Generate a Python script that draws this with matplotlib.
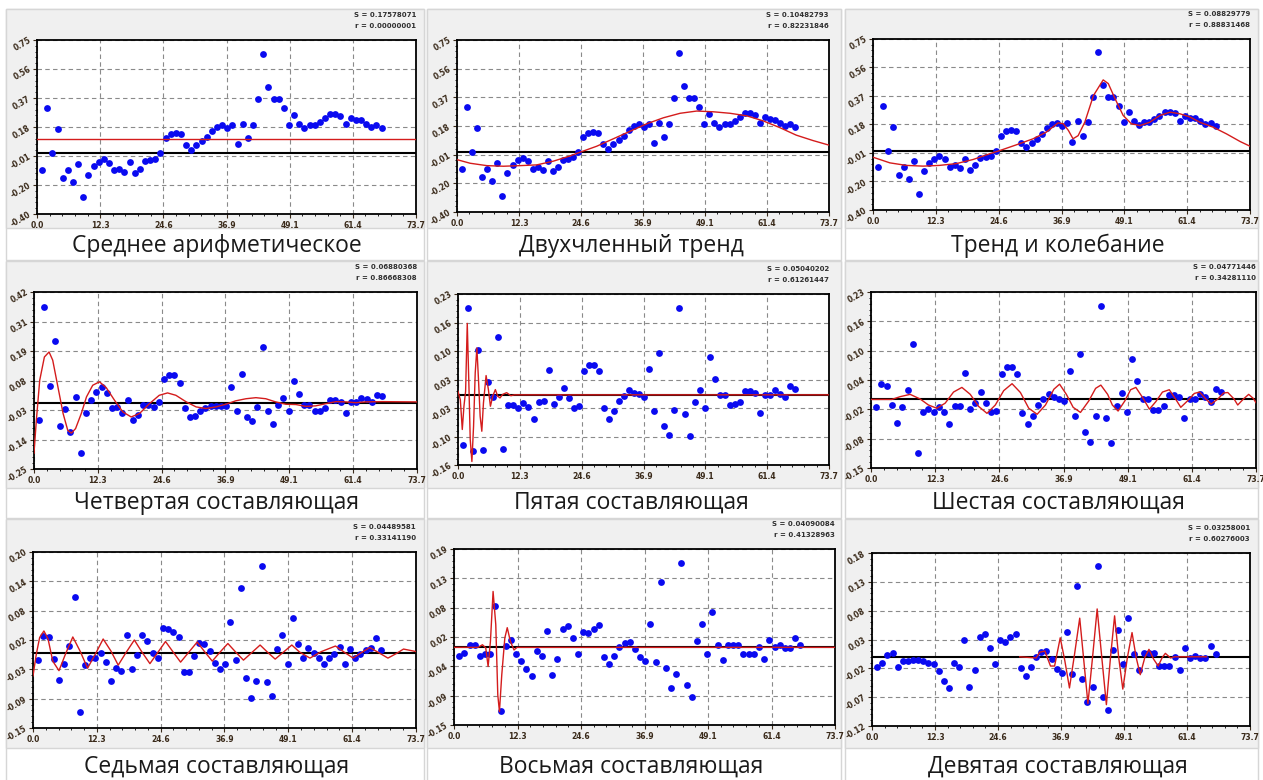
import numpy as np
import matplotlib
matplotlib.use('Agg')
import matplotlib.pyplot as plt
from matplotlib.patches import Rectangle
from matplotlib.ticker import AutoMinorLocator

W, H = 1263, 780

# ---- data ----
x_max = 73.7
x_tick_labels = ['0.0', '12.3', '24.6', '36.9', '49.1', '61.4', '73.7']
sample_x = np.arange(1, 68)   # 67 samples, axis runs to 1.1 * N

captions = ['Среднее арифметическое', 'Двухчленный тренд', 'Тренд и колебание',
            'Четвертая составляющая', 'Пятая составляющая', 'Шестая составляющая',
            'Седьмая составляющая', 'Восьмая составляющая', 'Девятая составляющая']
stats_s = ['S = 0.17578071', 'S = 0.10482793', 'S = 0.08829779',
           'S = 0.06880368', 'S = 0.05040202', 'S = 0.04771446',
           'S = 0.04489581', 'S = 0.04090084', 'S = 0.03258001']
stats_r = ['r = 0.00000001', 'r = 0.82231846', 'r = 0.88831468',
           'r = 0.86668308', 'r = 0.61261447', 'r = 0.34281110',
           'r = 0.33141190', 'r = 0.41328963', 'r = 0.60276003']

y_limits = [(-0.40, 0.75), (-0.40, 0.75), (-0.40, 0.75),
            (-0.25, 0.42), (-0.16, 0.23), (-0.15, 0.23),
            (-0.15, 0.20), (-0.15, 0.19), (-0.12, 0.18)]
y_tick_labels = [
    ['-0.40', '-0.20', '-0.01', '0.18', '0.37', '0.56', '0.75'],
    ['-0.40', '-0.20', '-0.01', '0.18', '0.37', '0.56', '0.75'],
    ['-0.40', '-0.20', '-0.01', '0.18', '0.37', '0.56', '0.75'],
    ['-0.25', '-0.14', '-0.03', '0.08', '0.19', '0.31', '0.42'],
    ['-0.16', '-0.10', '-0.03', '0.03', '0.10', '0.16', '0.23'],
    ['-0.15', '-0.08', '-0.02', '0.04', '0.10', '0.16', '0.23'],
    ['-0.15', '-0.09', '-0.03', '0.02', '0.08', '0.14', '0.20'],
    ['-0.15', '-0.09', '-0.04', '0.02', '0.08', '0.13', '0.19'],
    ['-0.12', '-0.07', '-0.02', '0.03', '0.08', '0.13', '0.18'],
]

raw = [-0.11, 0.30, 0.0, 0.16, -0.165, -0.11, -0.19, -0.07, -0.29, -0.14,
       -0.086, -0.055, -0.037, -0.06, -0.11, -0.10, -0.12, -0.057, -0.128, -0.10,
       -0.05, -0.044, -0.035, 0.0, 0.10, 0.13, 0.136, 0.13, 0.053, 0.024,
       0.053, 0.08, 0.11, 0.15, 0.178, 0.187, 0.167, 0.187, 0.06, 0.198,
       0.10, 0.19, 0.36, 0.66, 0.44, 0.36, 0.36, 0.30, 0.19, 0.257,
       0.198, 0.17, 0.19, 0.19, 0.21, 0.233, 0.26, 0.26, 0.25, 0.198,
       0.233, 0.22, 0.218, 0.198, 0.176, 0.187, 0.167]

resid4 = [-0.063, 0.364, 0.064, 0.233, -0.088, -0.024, -0.11, 0.024, -0.19, -0.039,
          0.013, 0.042, 0.059, 0.037, -0.019, -0.014, -0.039, 0.013, -0.064, -0.047,
          -0.009, -0.009, -0.015, 0.004, 0.09, 0.105, 0.104, 0.075, -0.019, -0.054,
          -0.048, -0.03, -0.019, -0.011, -0.011, -0.011, -0.011, 0.061, -0.029, 0.11,
          -0.053, -0.07, -0.015, 0.212, -0.029, -0.081, -0.008, 0.018, -0.029, 0.082,
          0.033, -0.006, -0.006, -0.032, -0.03, -0.02, 0.01, 0.01, 0.005, -0.039,
          0.005, 0.005, 0.019, 0.016, 0.005, 0.03, 0.025]

resid5 = [-0.115, 0.197, -0.128, 0.103, -0.126, 0.029, -0.005, 0.131, -0.123, -0.024,
          -0.024, -0.029, -0.018, -0.027, -0.056, -0.017, -0.015, 0.056, -0.02, -0.006,
          0.015, -0.007, -0.03, -0.026, 0.054, 0.068, 0.068, 0.054, -0.031, -0.055,
          -0.037, -0.013, -0.002, 0.01, 0.005, 0.002, -0.004, 0.059, -0.037, 0.096,
          -0.071, -0.091, -0.035, 0.198, -0.044, -0.094, -0.017, 0.011, -0.03, 0.086,
          0.037, 0.0, 0.0, -0.024, -0.022, -0.017, 0.009, 0.009, 0.005, -0.041,
          0.0, 0.0, 0.01, 0.002, -0.004, 0.02, 0.014]

resid6 = [-0.018, 0.031, 0.027, -0.014, -0.052, -0.018, 0.019, 0.118, -0.117, -0.03,
          -0.023, -0.03, -0.019, -0.03, -0.055, -0.017, -0.016, 0.055, -0.022, -0.009,
          0.015, -0.009, -0.03, -0.027, 0.054, 0.069, 0.069, 0.052, -0.032, -0.055,
          -0.037, -0.014, 0.0, 0.009, 0.004, -0.002, -0.006, 0.059, -0.038, 0.096,
          -0.072, -0.094, -0.037, 0.2, -0.043, -0.096, -0.016, 0.011, -0.03, 0.085,
          0.037, -0.001, -0.001, -0.025, -0.024, -0.017, 0.007, 0.007, 0.004, -0.042,
          -0.001, -0.001, 0.01, 0.004, -0.007, 0.02, 0.015]

resid7 = [-0.015, 0.032, 0.031, -0.013, -0.054, -0.022, 0.013, 0.111, -0.118, -0.024,
          -0.01, -0.011, 0.0, -0.019, -0.056, -0.03, -0.036, 0.035, -0.032, -0.004,
          0.035, 0.023, -0.001, -0.011, 0.048, 0.046, 0.04, 0.03, -0.038, -0.039,
          -0.006, 0.019, 0.017, 0.004, -0.021, -0.032, -0.023, 0.061, -0.015, 0.129,
          -0.051, -0.091, -0.056, 0.172, -0.058, -0.086, 0.008, 0.034, -0.023, 0.068,
          0.017, -0.011, 0.009, -0.001, -0.011, -0.022, -0.011, -0.003, 0.011, -0.022,
          0.008, -0.011, -0.002, 0.005, 0.009, 0.029, 0.006]

resid8 = [-0.017, -0.011, 0.005, 0.005, -0.016, -0.013, -0.012, 0.08, -0.122, 0.003,
          0.014, -0.012, -0.026, -0.041, -0.055, -0.008, -0.017, 0.032, -0.054, -0.023,
          0.035, 0.041, 0.018, -0.012, 0.03, 0.027, 0.035, 0.044, -0.019, -0.032,
          -0.017, 0.001, 0.008, 0.01, -0.003, -0.019, -0.027, 0.046, -0.029, 0.126,
          -0.039, -0.078, -0.052, 0.162, -0.073, -0.095, 0.013, 0.046, -0.012, 0.069,
          0.005, -0.024, 0.005, 0.005, 0.005, -0.013, -0.012, -0.013, 0.001, -0.023,
          0.014, 0.001, 0.004, -0.001, -0.001, 0.019, 0.005]

resid9 = [-0.017, -0.01, 0.003, 0.007, -0.017, -0.008, -0.008, -0.006, -0.006, -0.007,
          -0.01, -0.012, -0.025, -0.042, -0.054, -0.01, -0.018, 0.029, -0.052, -0.023,
          0.034, 0.039, 0.016, -0.012, 0.029, 0.025, 0.035, 0.04, -0.02, -0.034,
          -0.017, -0.001, 0.008, 0.01, -0.004, -0.021, -0.028, 0.043, -0.029, 0.122,
          -0.038, -0.078, -0.052, 0.157, -0.07, -0.093, 0.012, 0.046, -0.013, 0.067,
          0.005, -0.023, 0.006, 0.006, 0.006, -0.016, -0.016, -0.016, -0.001, -0.023,
          0.015, -0.002, 0.001, -0.002, -0.002, 0.018, 0.004]

# fitted curves (red)
mean_x = [0.0, 73.7]
mean_y = [0.095, 0.095]

trend2_x = [0, 2.6, 5.9, 9.2, 12.5, 15.8, 19.1, 22.4, 24.4, 27.7, 31.0, 34.3,
            37.6, 40.9, 44.2, 47.5, 50.8, 54.1, 57.4, 60.6, 63.9, 67.2, 70.5, 73.7]
trend2_y = [-0.05, -0.074, -0.09, -0.094, -0.09, -0.085, -0.06, -0.025, 0.0, 0.04, 0.09, 0.14,
            0.19, 0.23, 0.26, 0.275, 0.27, 0.26, 0.243, 0.21, 0.165, 0.114, 0.078, 0.047]

trend3_x = [0, 3.3, 6.5, 9.8, 13.0, 16.3, 19.6, 22.8, 24.8, 28.0, 31.3, 33.9, 36.2,
            37.2, 38.2, 39.1, 40.1, 41.4, 43.1, 45.0, 46.0, 47.3, 48.9, 50.5, 52.2,
            54.1, 56.1, 58.1, 60.0, 62.0, 63.9, 66.5, 69.1, 71.8, 73.7]
trend3_y = [-0.045, -0.083, -0.10, -0.105, -0.10, -0.088, -0.06, -0.022, 0.0, 0.038, 0.079, 0.124, 0.186,
            0.18, 0.135, 0.079, 0.10, 0.19, 0.37, 0.475, 0.45, 0.35, 0.236, 0.18, 0.168,
            0.19, 0.236, 0.258, 0.247, 0.225, 0.19, 0.157, 0.112, 0.06, 0.029]

comp4_x = [0, 0.45, 1.1, 2.0, 2.9, 3.6, 4.6, 5.6, 6.5, 7.2, 8.0, 9.1, 10.1, 11.3, 12.6,
           13.9, 15.5, 17.1, 18.7, 20.3, 22.2, 24.1, 25.7, 27.3, 29.3, 31.2, 33.1, 35.0,
           36.9, 38.8, 40.8, 42.7, 44.6, 46.5, 48.5, 50.4, 52.3, 54.2, 56.1, 58.1, 60.0,
           61.9, 63.8, 67.0, 73.7]
comp4_y = [-0.19, -0.066, 0.086, 0.174, 0.193, 0.162, 0.061, -0.04, -0.104, -0.114, -0.097, -0.04, 0.023, 0.067, 0.08,
           0.058, 0.01, -0.034, -0.053, -0.04, -0.003, 0.029, 0.038, 0.029, 0.004, -0.015, -0.021, -0.015,
           -0.005, 0.008, 0.016, 0.02, 0.016, 0.004, -0.005, -0.006, -0.013, -0.011, -0.003, 0.005, 0.004,
           0.001, 0.004, 0.005, 0.004]

comp5_x = [0, 0.46, 0.85, 1.18, 1.51, 1.84, 2.17, 2.43, 2.76, 3.09, 3.42, 3.75, 4.07, 4.4,
           4.73, 5.06, 5.58, 6.04, 6.44, 6.9, 7.42, 7.88, 8.34, 8.87, 9.66, 10.5, 11.2, 73.7]
comp5_y = [0.008, -0.011, -0.079, -0.026, 0.008, 0.163, 0.02, -0.102, -0.152, -0.072, 0.05, 0.107, 0.035, -0.049,
           -0.083, -0.018, 0.044, 0.012, -0.026, -0.003, 0.012, -0.003, -0.007, 0.001, 0.005, -0.002, 0.0, 0.0]

comp6_x = [0, 3.97, 5.57, 7.49, 9.41, 11.0, 12.6, 14.2, 15.8, 17.4, 19.0, 20.6, 22.2, 23.8,
           25.4, 27.0, 28.6, 30.2, 31.8, 33.4, 35.0, 36.1, 37.4, 38.7, 40.1, 41.7, 43.0, 44.0,
           45.3, 46.2, 47.3, 48.6, 49.7, 50.7, 52.0, 53.3, 54.5, 55.8, 57.1, 58.3, 59.3, 60.6,
           61.9, 62.9, 64.1, 65.1, 66.4, 67.5, 68.3, 69.5, 70.2, 71.3, 72.3, 73.2, 73.7]
comp6_y = [-0.002, -0.002, 0.004, 0.009, -0.001, -0.014, -0.021, -0.01, 0.014, 0.024, 0.009, -0.017, -0.032, -0.014,
           0.017, 0.032, 0.013, -0.021, -0.034, -0.014, 0.02, 0.031, 0.009, -0.019, -0.03, -0.005, 0.022, 0.029,
           0.009, -0.014, -0.027, -0.005, 0.019, 0.024, 0.002, -0.023, -0.007, 0.014, 0.019, -0.001, -0.019, -0.005,
           0.011, 0.014, -0.001, -0.012, -0.001, 0.012, 0.013, -0.001, -0.014, -0.001, 0.009, 0.0, -0.009]

comp7_x = [0, 0.64, 1.28, 2.1, 2.9, 3.8, 5.0, 6.25, 7.66, 9.06, 10.5, 12.0, 13.5, 15.0, 16.4,
           17.9, 19.5, 20.9, 22.5, 24.0, 25.5, 26.9, 28.4, 30.0, 31.6, 33.0, 34.5, 36.0, 37.5,
           39.0, 40.5, 42.1, 43.7, 45.1, 46.6, 48.2, 49.8, 51.3, 53.3, 55.5, 58.2, 60.0, 61.6,
           63.2, 64.8, 66.5, 68.3, 69.9, 71.3, 73.7]
comp7_y = [-0.046, -0.003, 0.03, 0.043, 0.027, -0.017, -0.036, -0.003, 0.031, 0.003, -0.031, -0.003, 0.027, 0.003, -0.025,
           0.0, 0.025, 0.002, -0.022, 0.0, 0.022, 0.002, -0.019, 0.001, 0.021, 0.002, -0.017, 0.001, 0.018,
           0.001, -0.015, 0.0, 0.015, 0.001, -0.013, 0.001, 0.015, 0.001, -0.011, 0.002, 0.013, 0.0, -0.011,
           0.0, 0.01, 0.0, -0.011, -0.002, 0.007, 0.002]

comp8_x = [0, 4.65, 5.5, 6.14, 6.6, 7.05, 7.56, 8.08, 8.47, 8.79, 9.24, 9.83, 10.3, 10.9,
           11.6, 12.2, 73.7]
comp8_y = [0.0, 0.0, 0.005, -0.001, -0.037, 0.012, 0.108, 0.044, -0.092, -0.124, -0.053, 0.018, 0.038, 0.012,
           -0.005, 0.0, 0.0]

comp9_x = [28.8, 32.0, 32.7, 33.7, 34.8, 35.6, 36.7, 37.6, 38.5, 39.5, 40.5, 41.3, 42.1, 43.0,
           43.9, 44.8, 45.7, 46.5, 47.3, 48.1, 48.9, 49.8, 50.7, 51.5, 52.3, 53.2, 54.0, 54.9,
           55.8, 56.6, 57.2, 58.2, 59.0, 65.2]
comp9_y = [0.0, -0.002, 0.008, 0.01, -0.016, -0.016, 0.033, -0.007, -0.054, 0.005, 0.067, -0.007, -0.081, -0.001,
           0.083, -0.001, -0.083, -0.001, 0.071, -0.001, -0.056, -0.001, 0.042, -0.001, -0.031, -0.001, 0.013, -0.004,
           -0.016, -0.001, 0.006, -0.002, 0.0, 0.0]

points = [raw, raw, raw, resid4, resid5, resid6, resid7, resid8, resid9]
curves = [(mean_x, mean_y), (trend2_x, trend2_y), (trend3_x, trend3_y),
          (comp4_x, comp4_y), (comp5_x, comp5_y), (comp6_x, comp6_y),
          (comp7_x, comp7_y), (comp8_x, comp8_y), (comp9_x, comp9_y)]

# ---- layout in pixels (left, top, right, bottom) ----
axes_px = [(37, 40, 416, 214), (457, 40, 829, 212), (873, 39, 1250, 210),
           (34, 292, 417, 469), (458, 294, 829, 465), (871, 292, 1256, 468),
           (33, 552, 416, 728), (454, 549, 835, 725), (872, 553, 1250, 726)]
col_left = [6, 427, 845]
col_right = [424, 841, 1258]
panel_top = [9, 261, 519]
panel_bottom = [228, 488, 748]
cell_bottom = [260, 518, 782]
caption_x = [217, 631, 1058]
caption_y = [246, 503, 767]

RED = '#d41c1c'
BLUE = '#0a0af0'


def fig_rect(x0, y0, x1, y1):
    return (x0 / W, 1 - y1 / H), (x1 - x0) / W, (y1 - y0) / H


def draw_panel(fig, k):
    left, top, right, bottom = axes_px[k]
    ax = fig.add_axes([left / W, 1 - bottom / H, (right - left) / W, (bottom - top) / H])
    ax.set_facecolor('white')

    y0, y1 = y_limits[k]
    ax.set_xlim(0, x_max)
    ax.set_ylim(y0, y1)
    ax.set_xticks(np.linspace(0, x_max, 7))
    ax.set_xticklabels(x_tick_labels)
    ax.set_yticks(np.linspace(y0, y1, 7))
    ax.set_yticklabels(y_tick_labels[k], rotation=30, ha='right', va='center',
                       rotation_mode='anchor')
    ax.xaxis.set_minor_locator(AutoMinorLocator(5))
    ax.yaxis.set_minor_locator(AutoMinorLocator(5))
    ax.tick_params(which='major', direction='out', length=3, width=0.8,
                   labelsize=5.5, colors='#3a2a1a', pad=2)
    ax.tick_params(which='minor', direction='out', length=1.5, width=0.6)
    for lab in ax.get_xticklabels() + ax.get_yticklabels():
        lab.set_fontweight('bold')
    ax.grid(True, which='major', color='#8a8a8a', linestyle=(0, (4, 3)), linewidth=0.8)
    for sp in ax.spines.values():
        sp.set_linewidth(1.3)
        sp.set_color('black')

    # zero line, samples, fitted curve
    ax.axhline(0, color='black', linewidth=1.5, zorder=2)
    ax.plot(sample_x, points[k], 'o', color=BLUE, markersize=4.9, markeredgewidth=0, zorder=3)
    cx, cy = curves[k]
    ax.plot(cx, cy, color=RED, linewidth=1.0, zorder=4)

    fig.text(right / W, 1 - (top - 25) / H, stats_s[k], ha='right', va='center',
             fontsize=5, fontweight='bold', color='#303030')
    fig.text(right / W, 1 - (top - 14) / H, stats_r[k], ha='right', va='center',
             fontsize=5, fontweight='bold', color='#303030')


def run():
    fig = plt.figure(figsize=(W / 100, H / 100), dpi=100)
    fig.patch.set_facecolor('white')

    # cell frames and grey chart backgrounds
    for r in range(3):
        for c in range(3):
            xy, w, h = fig_rect(col_left[c], panel_top[r], col_right[c], cell_bottom[r])
            fig.add_artist(Rectangle(xy, w, h, transform=fig.transFigure, facecolor='white',
                                     edgecolor='#d6d6d6', linewidth=1.0, zorder=-2))
            xy, w, h = fig_rect(col_left[c], panel_top[r], col_right[c], panel_bottom[r])
            fig.add_artist(Rectangle(xy, w, h, transform=fig.transFigure, facecolor='#f0f0f0',
                                     edgecolor='#d6d6d6', linewidth=1.0, zorder=-1))
            fig.text(caption_x[c] / W, 1 - caption_y[r] / H, captions[r * 3 + c],
                     ha='center', va='center', fontsize=16.5, color='#1a1a1a',
                     family=['Open Sans', 'DejaVu Sans'])

    for k in range(9):
        draw_panel(fig, k)

    fig.savefig('out.png', dpi=100)


if __name__ == '__main__':
    run()
